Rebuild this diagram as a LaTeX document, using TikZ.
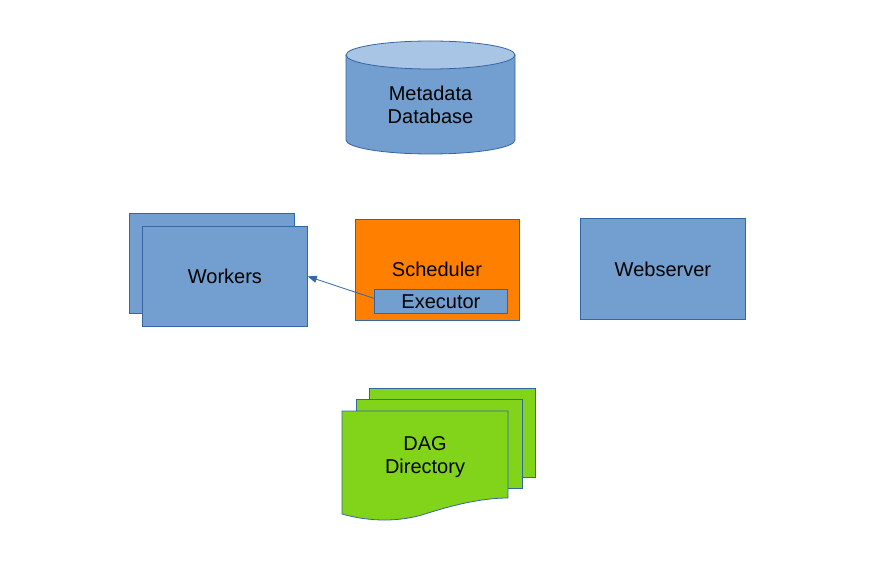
\documentclass[tikz,border=0pt]{standalone}
\usepackage{fontspec}
\setmainfont{Liberation Sans}
\usetikzlibrary{arrows.meta}
\definecolor{boxblue}{HTML}{729FCF}
\definecolor{lineblue}{HTML}{3465A4}
\definecolor{topblue}{HTML}{A9C5E6}
\definecolor{orng}{HTML}{FF8000}
\definecolor{grn}{HTML}{81D41A}
\tikzset{
  lbl/.style={font=\fontsize{20}{23}\selectfont, align=center, inner sep=0pt},
  bluebox/.style={draw=lineblue, fill=boxblue, line width=0.8pt},
  greenbox/.style={draw=lineblue, fill=grn, line width=0.8pt},
}
\begin{document}
\begin{tikzpicture}[x=1pt,y=-1pt]
\useasboundingbox (0,0) rectangle (870,577);
% cylinder
\draw[bluebox] (346,55) -- (346,140) arc[start angle=180,end angle=0,x radius=84.5,y radius=14] -- (515,55);
\draw[draw=lineblue, fill=topblue, line width=0.8pt] (430.5,55) ellipse[x radius=84.5,y radius=14];
\node[lbl] (db) at (430.5,104.5) {Metadata\\Database};
% workers
\draw[bluebox] (129,213) rectangle (294,313);
\node[bluebox, minimum width=165pt, minimum height=100pt, inner sep=0pt, anchor=north west] (workers) at (142,226) {};
\node[lbl] (wtxt) at (workers.center) {Workers};
% scheduler
\node[draw=lineblue, fill=orng, line width=0.8pt, minimum width=164pt, minimum height=101pt, inner sep=0pt, anchor=north west] (sched) at (355,219) {};
\node[lbl] (stxt) at (437,269) {Scheduler};
\node[bluebox, minimum width=133pt, minimum height=24pt, inner sep=0pt, anchor=north west] (exec) at (374,289) {};
\node[lbl] (etxt) at (exec.center) {Executor};
% webserver
\node[bluebox, minimum width=165pt, minimum height=101pt, inner sep=0pt, anchor=north west] (web) at (580,218) {};
\node[lbl] (wstxt) at (web.center) {Webserver};
% arrow
\draw[lineblue, line width=0.8pt, -{Triangle[length=9pt,width=7pt]}] (exec.west) ++(0,-3) coordinate (es) (es) -- (workers.east);
% DAG directory
\draw[greenbox] (369,388) rectangle (535,477);
\draw[greenbox] (356,399) rectangle (522,488);
\draw[greenbox] (342,411) -- (508,411) -- (508,498)
  .. controls (480,498) and (450,506) .. (425,514)
  .. controls (400,522) and (370,522) .. (342,514) -- cycle;
\node[lbl] (dag) at (425,457.5) {DAG\\Directory};
\end{tikzpicture}
\end{document}
